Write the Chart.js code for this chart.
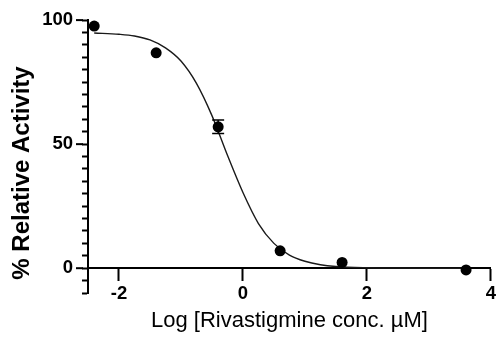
<!DOCTYPE html>
<html>
<head>
<meta charset="utf-8">
<script src="https://cdn.jsdelivr.net/npm/chart.js@4"></script>
<style>
  html, body { margin: 0; padding: 0; background: #ffffff; }
  #wrap { width: 499px; height: 337px; }
</style>
</head>
<body>
<div id="wrap"><canvas id="c" width="499" height="337"></canvas></div>
<script>
// Measured points (log concentration, % relative activity)
const logConc = [-2.4, -1.4, -0.4, 0.6, 1.6, 3.6];
const activity = [97.6, 86.8, 57.0, 7.0, 2.3, -0.7];
const activityErr = [0, 0, 2.7, 0, 0, 0];

// Fitted curve
const curveX = [-2.4, -2.0, -1.75, -1.5, -1.25, -1.0, -0.75, -0.5, -0.25, 0.0, 0.25, 0.5, 0.75, 1.0, 1.25, 1.5, 2.0, 2.5, 3.0, 3.6];
const curveY = [94.8, 94.3, 93.6, 92.0, 88.8, 83.5, 74.5, 61.5, 45.5, 30.5, 18.0, 10.0, 5.3, 2.8, 1.4, 0.7, 0.2, 0.05, 0.0, 0.0];

// Axis ticks
const xTicks = [-2, 0, 2, 4];
const yLabelTicks = [0, 50, 100];

const xTitle = 'Log [Rivastigmine conc. \u00b5M]';
const yTitle = '% Relative Activity';

const FONT = "'Liberation Sans', Arial, Helvetica, sans-serif";

const errorBarPlugin = {
  id: 'errorBars',
  afterDatasetsDraw(chart) {
    const { ctx, scales: { x, y } } = chart;
    ctx.save();
    ctx.strokeStyle = '#000';
    ctx.lineWidth = 1.5;
    logConc.forEach((lx, i) => {
      const e = activityErr[i];
      if (!e) return;
      const px = x.getPixelForValue(lx);
      const yt = y.getPixelForValue(activity[i] + e);
      const yb = y.getPixelForValue(activity[i] - e);
      ctx.beginPath();
      ctx.moveTo(px, yt); ctx.lineTo(px, yb);
      ctx.moveTo(px - 6, yt); ctx.lineTo(px + 6, yt);
      ctx.moveTo(px - 6, yb); ctx.lineTo(px + 6, yb);
      ctx.stroke();
    });
    ctx.restore();
  }
};

const axisExtrasPlugin = {
  id: 'axisExtras',
  afterDraw(chart) {
    const { ctx, scales: { y }, chartArea } = chart;
    ctx.save();
    // longer major ticks on the y axis
    ctx.strokeStyle = '#000';
    ctx.lineWidth = 2;
    yLabelTicks.forEach(v => {
      const py = y.getPixelForValue(v);
      ctx.beginPath();
      ctx.moveTo(chartArea.left - 12, py);
      ctx.lineTo(chartArea.left - 5, py);
      ctx.stroke();
    });
    // y axis title
    ctx.fillStyle = '#000';
    ctx.font = 'bold 24px ' + FONT;
    ctx.textAlign = 'center';
    ctx.textBaseline = 'middle';
    ctx.translate(22, 173);
    ctx.rotate(-Math.PI / 2);
    ctx.fillText(yTitle, 0, 0);
    ctx.restore();
  }
};

new Chart(document.getElementById('c'), {
  type: 'scatter',
  data: {
    datasets: [
      {
        type: 'line',
        label: 'fit',
        data: curveX.map((v, i) => ({ x: v, y: curveY[i] })),
        borderColor: '#1a1a1a',
        borderWidth: 1.4,
        pointRadius: 0,
        fill: false,
        cubicInterpolationMode: 'monotone',
        order: 2
      },
      {
        label: 'data',
        data: logConc.map((v, i) => ({ x: v, y: activity[i] })),
        backgroundColor: '#000',
        borderColor: '#000',
        pointRadius: 5.5,
        pointBorderWidth: 0,
        showLine: false,
        order: 1
      }
    ]
  },
  options: {
    responsive: false,
    animation: false,
    devicePixelRatio: 1,
    layout: { padding: { top: 20, right: 5, bottom: 44, left: 0 } },
    plugins: { legend: { display: false }, tooltip: { enabled: false } },
    scales: {
      x: {
        type: 'linear',
        position: { y: 0 },
        min: -2.5,
        max: 4,
        afterFit: s => { s.height = 44; },
        afterBuildTicks: s => { s.ticks = xTicks.map(v => ({ value: v })); },
        ticks: {
          font: { family: FONT, size: 18.5, weight: 'bold' },
          color: '#000',
          padding: 3,
          maxRotation: 0,
          autoSkip: false
        },
        grid: { drawOnChartArea: false, drawTicks: true, tickLength: 12, tickWidth: 2, tickColor: '#000' },
        border: { display: true, color: '#000', width: 2 },
        title: {
          display: true,
          text: xTitle,
          font: { family: FONT, size: 22 },
          color: '#000',
          padding: { top: 0, bottom: -22 }
        }
      },
      y: {
        type: 'linear',
        position: 'left',
        min: -10,
        max: 100,
        afterFit: s => { s.width = 88; },
        ticks: {
          stepSize: 5,
          autoSkip: false,
          font: { family: FONT, size: 18.5, weight: 'bold' },
          color: '#000',
          padding: 9,
          callback: v => (yLabelTicks.includes(v) ? String(v) : '')
        },
        grid: { drawOnChartArea: false, drawTicks: true, tickLength: 6, tickWidth: 2, tickColor: '#000' },
        border: { display: true, color: '#000', width: 2 },
        title: { display: false }
      }
    }
  },
  plugins: [errorBarPlugin, axisExtrasPlugin]
});
</script>
</body>
</html>
